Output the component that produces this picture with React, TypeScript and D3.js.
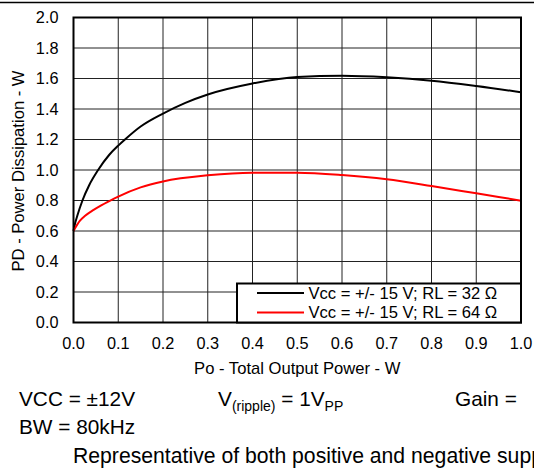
import React from "react";
import * as d3 from "d3";

const xTicks = [0, 0.1, 0.2, 0.3, 0.4, 0.5, 0.6, 0.7, 0.8, 0.9, 1.0];
const yTicks = [0, 0.2, 0.4, 0.6, 0.8, 1.0, 1.2, 1.4, 1.6, 1.8, 2.0];

const poValues32 = [0, 0.004, 0.0085, 0.02, 0.035, 0.055, 0.08, 0.1, 0.115, 0.15, 0.2, 0.25, 0.3, 0.4, 0.5, 0.6, 0.7, 0.8, 0.9, 1.0];
const pdValues32 = [0.6, 0.655, 0.7, 0.8, 0.9, 1.0, 1.1, 1.16, 1.2, 1.285, 1.37, 1.44, 1.495, 1.567, 1.61, 1.618, 1.608, 1.586, 1.551, 1.51];

const poValues64 = [0, 0.0145, 0.026, 0.044, 0.06, 0.081, 0.1, 0.15, 0.2, 0.3, 0.4, 0.5, 0.6, 0.7, 0.8, 0.9, 1.0];
const pdValues64 = [0.6, 0.668, 0.7, 0.737, 0.765, 0.798, 0.826, 0.886, 0.925, 0.965, 0.982, 0.982, 0.967, 0.939, 0.895, 0.847, 0.799];

const legendLabels = ["Vcc = +/- 15 V; RL = 32 Ω", "Vcc = +/- 15 V; RL = 64 Ω"];
const seriesColors = ["#000000", "#ff0000"];

const W = 534;
const H = 468;
const m = { left: 73.5, right: 521, top: 17.5, bottom: 322.5 };
const font = "Arial, 'Liberation Sans', Helvetica, sans-serif";

export default function App() {
  const x = d3.scaleLinear().domain([0, 1]).range([m.left, m.right]);
  const y = d3.scaleLinear().domain([0, 2]).range([m.bottom, m.top]);
  const line = d3
    .line<[number, number]>()
    .x((d) => x(d[0]))
    .y((d) => y(d[1]))
    .curve(d3.curveMonotoneX);

  const s32 = poValues32.map((p, i) => [p, pdValues32[i]] as [number, number]);
  const s64 = poValues64.map((p, i) => [p, pdValues64[i]] as [number, number]);
  const series = [s32, s64];

  const lg = { x0: 237, x1: m.right, y0: 283.5, y1: m.bottom };

  return (
    <svg
      width={W}
      height={H}
      style={{ position: "absolute", left: 0, top: 0, background: "#fff" }}
      fontFamily={font}
    >
      <rect x={0} y={0} width={W} height={H} fill="#fff" />
      <line x1={0} x2={W} y1={2.5} y2={2.5} stroke="#000" strokeWidth={1.6} />
      {xTicks.map((t) => (
        <line key={"gx" + t} x1={x(t)} x2={x(t)} y1={m.top} y2={m.bottom} stroke="#222" strokeWidth={1} />
      ))}
      {yTicks.map((t) => (
        <line key={"gy" + t} x1={m.left} x2={m.right} y1={y(t)} y2={y(t)} stroke="#222" strokeWidth={1} />
      ))}
      {series.map((s, i) => (
        <path key={"s" + i} d={line(s) || ""} fill="none" stroke={seriesColors[i]} strokeWidth={2} />
      ))}
      <rect x={m.left} y={m.top} width={m.right - m.left} height={m.bottom - m.top} fill="none" stroke="#000" strokeWidth={2} />
      <rect x={lg.x0} y={lg.y0} width={lg.x1 - lg.x0} height={lg.y1 - lg.y0} fill="#fff" stroke="#000" strokeWidth={2} />
      {legendLabels.map((l, i) => (
        <g key={"lg" + i}>
          <line x1={257} x2={304} y1={293 + i * 19.5} y2={293 + i * 19.5} stroke={seriesColors[i]} strokeWidth={2} />
          <text x={308.5} y={293 + i * 19.5} dy="0.36em" fontSize={16.6} fill="#000">
            {l}
          </text>
        </g>
      ))}
      {yTicks.map((t) => (
        <text key={"ty" + t} x={58.5} y={y(t)} dy="0.36em" textAnchor="end" fontSize={16.3} fill="#000">
          {t.toFixed(1)}
        </text>
      ))}
      {xTicks.map((t) => (
        <text key={"tx" + t} x={x(t)} y={343} dy="0.36em" textAnchor="middle" fontSize={16.3} fill="#000">
          {t.toFixed(1)}
        </text>
      ))}
      <text x={(m.left + m.right) / 2} y={368} dy="0.36em" textAnchor="middle" fontSize={16.6} fill="#000">
        Po - Total Output Power - W
      </text>
      <text
        transform={`translate(18,171) rotate(-90)`}
        dy="0.36em"
        textAnchor="middle"
        fontSize={16.6}
        fill="#000"
      >
        PD - Power Dissipation - W
      </text>
      <text x={19} y={406} fontSize={20.8} fill="#000">VCC = ±12V</text>
      <text x={218} y={406} fontSize={20.8} fill="#000">
        V<tspan fontSize={14} dy={5}>(ripple)</tspan>
        <tspan dy={-5}> = 1V</tspan>
        <tspan fontSize={14} dy={5}>PP</tspan>
      </text>
      <text x={455} y={406} fontSize={20.8} fill="#000">Gain =</text>
      <text x={19} y={434} fontSize={20.8} fill="#000">BW = 80kHz</text>
      <text x={73} y={463} fontSize={21.2} fill="#000">Representative of both positive and negative supply</text>
    </svg>
  );
}
